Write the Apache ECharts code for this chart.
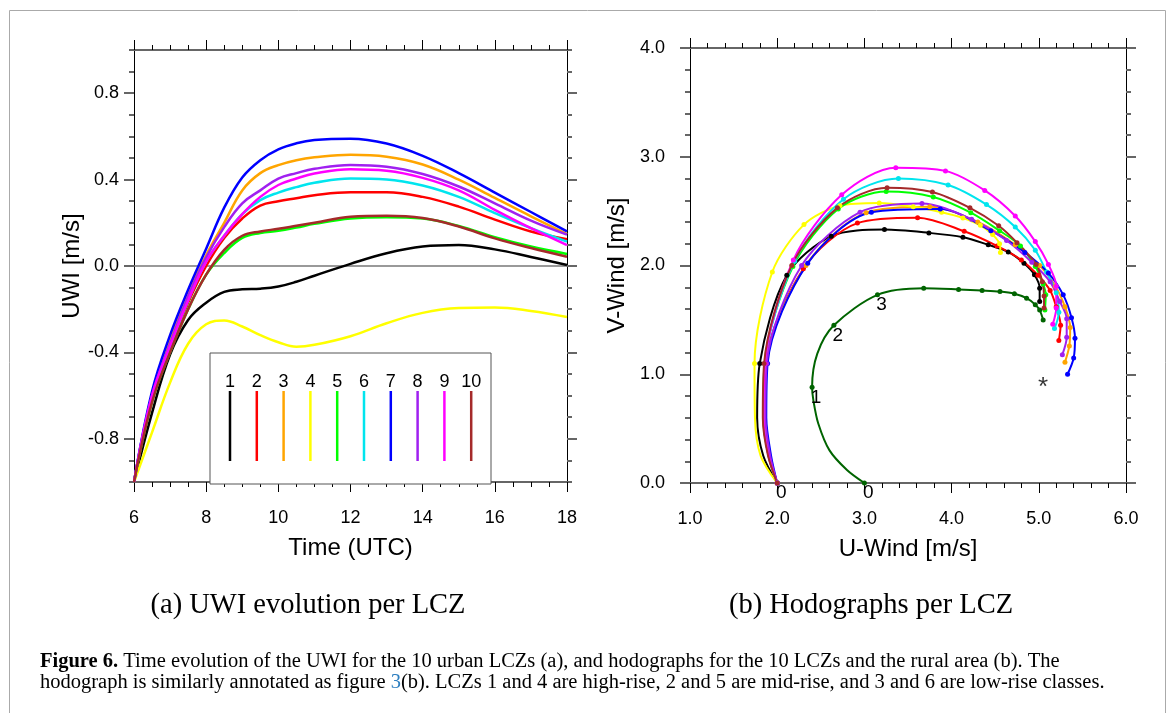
<!DOCTYPE html>
<html>
<head>
<meta charset="utf-8">
<script src="https://cdn.jsdelivr.net/npm/echarts@6/dist/echarts.min.js"></script>
<style>
  html, body { margin: 0; padding: 0; background: #fff; }
  #chart { width: 1173px; height: 713px; }
</style>
</head>
<body>
<div id="chart"></div>
<script>
// panel (a): UWI per LCZ, time in UTC hours
var hours = [6, 6.5, 7, 7.5, 8, 8.5, 9, 9.5, 10, 10.5, 11, 12, 13, 14, 15, 16, 17, 18];
var lczNames = ['1', '2', '3', '4', '5', '6', '7', '8', '9', '10'];
var lczColors = ['#000000', '#ff0000', '#ffa500', '#ffff00', '#00ff00', '#00e5ee', '#0000ff', '#a020f0', '#ff00ff', '#a52a2a'];
var ruralColor = '#006400';

var uwi1  = [-1, -0.68, -0.41, -0.25, -0.17, -0.12, -0.108, -0.105, -0.095, -0.073, -0.045, 0.01, 0.059, 0.09, 0.097, 0.077, 0.042, 0.005];
var uwi2  = [-1, -0.62, -0.38, -0.17, 0.0, 0.13, 0.22, 0.28, 0.30, 0.314, 0.328, 0.341, 0.341, 0.32, 0.275, 0.215, 0.16, 0.124];
var uwi3  = [-1, -0.6, -0.35, -0.13, 0.05, 0.2, 0.35, 0.43, 0.467, 0.49, 0.503, 0.515, 0.506, 0.47, 0.40, 0.315, 0.23, 0.148];
var uwi4  = [-1, -0.77, -0.54, -0.36, -0.27, -0.252, -0.28, -0.32, -0.353, -0.374, -0.365, -0.325, -0.265, -0.217, -0.195, -0.192, -0.208, -0.236];
var uwi5  = [-1, -0.63, -0.4, -0.2, -0.04, 0.06, 0.13, 0.153, 0.163, 0.178, 0.195, 0.22, 0.226, 0.22, 0.185, 0.133, 0.09, 0.056];
var uwi6  = [-1, -0.6, -0.37, -0.16, 0.02, 0.14, 0.24, 0.305, 0.34, 0.365, 0.385, 0.405, 0.401, 0.373, 0.32, 0.245, 0.175, 0.113];
var uwi7  = [-1, -0.58, -0.32, -0.11, 0.08, 0.27, 0.41, 0.49, 0.54, 0.568, 0.583, 0.589, 0.567, 0.51, 0.43, 0.34, 0.25, 0.16];
var uwi8  = [-1, -0.6, -0.36, -0.14, 0.04, 0.18, 0.29, 0.35, 0.405, 0.43, 0.45, 0.468, 0.46, 0.426, 0.368, 0.29, 0.21, 0.145];
var uwi9  = [-1, -0.6, -0.37, -0.16, 0.02, 0.14, 0.24, 0.32, 0.375, 0.405, 0.428, 0.448, 0.441, 0.408, 0.35, 0.26, 0.175, 0.097];
var uwi10 = [-1, -0.63, -0.4, -0.2, -0.04, 0.075, 0.14, 0.16, 0.172, 0.186, 0.2, 0.228, 0.233, 0.222, 0.183, 0.128, 0.083, 0.043];
var uwiAll = [uwi1, uwi2, uwi3, uwi4, uwi5, uwi6, uwi7, uwi8, uwi9, uwi10];

// panel (b): hodographs [u, v], hourly 6..18 UTC
var hodo1  = [[2.0, 0], [1.80, 1.10], [2.11, 1.91], [2.62, 2.27], [3.23, 2.33], [3.74, 2.30], [4.13, 2.26], [4.42, 2.19], [4.65, 2.125], [4.83, 2.02], [4.95, 1.915], [5.01, 1.79], [5.01, 1.67]];
var hodo2  = [[2.0, 0], [1.87, 1.10], [2.30, 1.97], [2.92, 2.39], [3.61, 2.44], [4.145, 2.315], [4.52, 2.18], [4.80, 2.05], [4.99, 1.91], [5.13, 1.77], [5.20, 1.62], [5.25, 1.45], [5.23, 1.31]];
var hodo3  = [[2.0, 0], [1.875, 1.10], [2.33, 2.0], [3.02, 2.486], [3.75, 2.54], [4.30, 2.40], [4.73, 2.19], [5.01, 2.0], [5.19, 1.81], [5.30, 1.62], [5.36, 1.43], [5.35, 1.26], [5.30, 1.11]];
var hodo4  = [[2.0, 0], [1.74, 1.10], [1.944, 1.94], [2.307, 2.376], [2.72, 2.55], [3.17, 2.575], [3.56, 2.54], [3.885, 2.49], [4.13, 2.437], [4.33, 2.37], [4.47, 2.284], [4.55, 2.20], [4.56, 2.12]];
var hodo5  = [[2.0, 0], [1.855, 1.10], [2.18, 1.99], [2.70, 2.52], [3.25, 2.68], [3.79, 2.63], [4.22, 2.486], [4.55, 2.32], [4.79, 2.18], [4.96, 1.99], [5.05, 1.83], [5.08, 1.73], [5.07, 1.59]];
var hodo6  = [[2.0, 0], [1.86, 1.10], [2.20, 2.04], [2.76, 2.61], [3.39, 2.80], [3.96, 2.74], [4.40, 2.56], [4.73, 2.354], [4.96, 2.14], [5.09, 1.94], [5.20, 1.75], [5.23, 1.57], [5.18, 1.42]];
var hodo7  = [[2.0, 0], [1.89, 1.10], [2.35, 2.02], [3.08, 2.49], [3.87, 2.52], [4.45, 2.32], [4.84, 2.12], [5.11, 1.93], [5.28, 1.73], [5.375, 1.52], [5.415, 1.33], [5.40, 1.15], [5.33, 1.0]];
var hodo8  = [[2.0, 0], [1.88, 1.10], [2.28, 2.0], [2.95, 2.49], [3.66, 2.57], [4.23, 2.425], [4.63, 2.23], [4.92, 2.03], [5.13, 1.85], [5.24, 1.67], [5.32, 1.51], [5.32, 1.34], [5.27, 1.18]];
var hodo9  = [[2.0, 0], [1.86, 1.10], [2.185, 2.05], [2.74, 2.65], [3.36, 2.90], [3.93, 2.87], [4.38, 2.69], [4.73, 2.455], [4.96, 2.22], [5.11, 2.01], [5.20, 1.81], [5.20, 1.61], [5.16, 1.46]];
var hodo10 = [[2.0, 0], [1.85, 1.10], [2.167, 2.0], [2.69, 2.53], [3.26, 2.716], [3.78, 2.676], [4.21, 2.53], [4.54, 2.365], [4.75, 2.21], [4.97, 2.01], [5.04, 1.85], [5.06, 1.72], [5.06, 1.61]];
var hodoRural = [[3.0, 0], [2.40, 0.88], [2.65, 1.45], [3.15, 1.73], [3.68, 1.79], [4.08, 1.78], [4.35, 1.77], [4.555, 1.76], [4.72, 1.74], [4.86, 1.70], [4.96, 1.64], [5.01, 1.59], [5.05, 1.50]];
var hodoAll = [hodo1, hodo2, hodo3, hodo4, hodo5, hodo6, hodo7, hodo8, hodo9, hodo10];

// extra points read along the curve between hour 0 and hour 1 (no marker)
var arc1  = [[1.84, 0.25], [1.77, 0.6]];
var arc2  = [[1.91, 0.25], [1.855, 0.6]];
var arc3  = [[1.915, 0.25], [1.86, 0.6]];
var arc4  = [[1.81, 0.25], [1.745, 0.6]];
var arc5  = [[1.90, 0.25], [1.84, 0.6]];
var arc6  = [[1.90, 0.25], [1.845, 0.6]];
var arc7  = [[1.93, 0.25], [1.875, 0.6]];
var arc8  = [[1.92, 0.25], [1.865, 0.6]];
var arc9  = [[1.90, 0.25], [1.845, 0.6]];
var arc10 = [[1.895, 0.25], [1.835, 0.6]];
var arcAll = [arc1, arc2, arc3, arc4, arc5, arc6, arc7, arc8, arc9, arc10];
var arcRural0 = [[2.80, 0.12], [2.60, 0.30], [2.47, 0.55], [2.415, 0.76]];
var arcRural1 = [[2.46, 1.19]];
var geoWind = [5.05, 0.94];

var sans = 'Liberation Sans, Arial, sans-serif';
var serif = 'Liberation Serif, Times New Roman, serif';
var majorUwi = [-0.8, -0.4, 0, 0.4, 0.8];

function fmt1(v) { return v.toFixed(1); }

// hourly points get a marker, arc points do not
function hodoData(pts, arcs, labelHours) {
  var out = [];
  pts.forEach(function (p, h) {
    var item = { value: p };
    if (labelHours.indexOf(h) >= 0) item.label = { show: true, formatter: String(h) };
    out.push(item);
    (arcs[h] || []).forEach(function (a) { out.push({ value: a, symbol: 'none' }); });
  });
  return out;
}

// one frame side of a grid
function frameAxis(grid, pos, o) {
  var horiz = pos === 'top' || pos === 'bottom';
  var ax = {
    gridIndex: grid, type: 'value', position: pos,
    axisLine: { show: true, onZero: false, lineStyle: { color: horiz ? '#666' : '#000', width: horiz ? 2 : 1 } },
    axisTick: { show: true, inside: false, length: 10, lineStyle: { color: horiz ? '#000' : '#666', width: horiz ? 1 : 2 } },
    minorTick: { show: false },
    axisLabel: { show: false },
    splitLine: { show: false },
    minorSplitLine: { show: false }
  };
  return Object.assign(ax, o || {});
}

var tickFont = { fontSize: 18, fontFamily: sans, color: '#000' };
var nameFont = { fontSize: 24, fontFamily: sans, color: '#000' };
var hodoLabel = { show: false, position: 'inside', offset: [4, 10], color: '#000', fontFamily: sans, fontSize: 19 };

var chart = echarts.init(document.getElementById('chart'));

var series = [];
uwiAll.forEach(function (vals, i) {
  var s = {
    type: 'line', xAxisIndex: 0, yAxisIndex: 0,
    data: hours.map(function (h, k) { return [h, vals[k]]; }),
    smooth: 0.4, showSymbol: false, symbol: 'none',
    lineStyle: { color: lczColors[i], width: 2.5 }, z: 3
  };
  if (i === 0) {
    s.markLine = {
      silent: true, symbol: 'none', label: { show: false },
      lineStyle: { color: '#777', width: 1.5, type: 'solid' },
      data: [{ yAxis: 0 }], z: 2
    };
  }
  series.push(s);
});

hodoAll.forEach(function (pts, i) {
  series.push({
    type: 'line', xAxisIndex: 2, yAxisIndex: 4,
    data: hodoData(pts, { 0: arcAll[i] }, i === 0 ? [0] : []),
    smooth: 0.3, symbol: 'circle', symbolSize: 5,
    itemStyle: { color: lczColors[i] },
    lineStyle: { color: lczColors[i], width: 2 },
    label: hodoLabel
  });
});

series.push({
  type: 'line', xAxisIndex: 2, yAxisIndex: 4,
  data: hodoData(hodoRural, { 0: arcRural0, 1: arcRural1 }, [0, 1, 2, 3]),
  smooth: 0.3, symbol: 'circle', symbolSize: 5,
  itemStyle: { color: ruralColor },
  lineStyle: { color: ruralColor, width: 2 },
  label: hodoLabel
});

series.push({
  type: 'scatter', xAxisIndex: 2, yAxisIndex: 4,
  data: [geoWind], symbolSize: 1, itemStyle: { color: 'rgba(0,0,0,0)' },
  label: { show: true, position: 'inside', offset: [0, 7], formatter: '*', color: '#000', fontFamily: sans, fontSize: 26 }
});

// legend of panel (a)
var legendEls = [{
  type: 'rect', shape: { x: 210, y: 353, width: 281, height: 131 },
  style: { fill: '#fff', stroke: '#555', lineWidth: 1 }, z: 10
}];
lczNames.forEach(function (n, i) {
  var x = 230 + i * 26.8;
  legendEls.push({
    type: 'text', x: x, y: 382, z: 11,
    style: { text: n, fill: '#000', font: '18px ' + sans, textAlign: 'center', textVerticalAlign: 'middle' }
  });
  legendEls.push({
    type: 'line', shape: { x1: x, y1: 391, x2: x, y2: 461 }, z: 11,
    style: { stroke: lczColors[i], lineWidth: 2.5 }
  });
});

var textEls = [
  { type: 'rect', shape: { x: 9.5, y: 10.5, width: 1156, height: 800 }, style: { fill: 'none', stroke: '#aaa', lineWidth: 1 }, z: 0, silent: true },
  { type: 'text', x: 308, y: 606, style: { text: '(a) UWI evolution per LCZ', fill: '#000', font: '28.5px ' + serif, textAlign: 'center', textVerticalAlign: 'middle' } },
  { type: 'text', x: 871, y: 606, style: { text: '(b) Hodographs per LCZ', fill: '#000', font: '28.5px ' + serif, textAlign: 'center', textVerticalAlign: 'middle' } },
  { type: 'text', x: 40, y: 662, style: {
      text: '{b|Figure 6.} Time evolution of the UWI for the 10 urban LCZs (a), and hodographs for the 10 LCZs and the rural area (b). The',
      font: '20.5px ' + serif, fill: '#000', textVerticalAlign: 'middle',
      rich: { b: { font: 'bold 20.5px ' + serif, fill: '#000' } } } },
  { type: 'text', x: 40, y: 683, style: {
      text: 'hodograph is similarly annotated as figure {l|3}(b). LCZs 1 and 4 are high-rise, 2 and 5 are mid-rise, and 3 and 6 are low-rise classes.',
      font: '20.5px ' + serif, fill: '#000', textVerticalAlign: 'middle',
      rich: { l: { font: '20.5px ' + serif, fill: '#2e7fc0' } } } }
];

chart.setOption({
  animation: false,
  backgroundColor: '#fff',
  grid: [
    { left: 134, top: 50, width: 433, height: 432 },
    { left: 690, top: 48, width: 436, height: 435 }
  ],
  xAxis: [
    frameAxis(0, 'bottom', {
      min: 6, max: 18, interval: 2,
      minorTick: { show: true, splitNumber: 4, length: 5, lineStyle: { color: '#000', width: 1 } },
      axisLabel: Object.assign({ show: true, margin: 27 }, tickFont),
      name: 'Time (UTC)', nameLocation: 'middle', nameGap: 54, nameTextStyle: nameFont
    }),
    frameAxis(0, 'top', {
      min: 6, max: 18, interval: 2,
      minorTick: { show: true, splitNumber: 4, length: 5, lineStyle: { color: '#000', width: 1 } }
    }),
    frameAxis(1, 'bottom', {
      min: 1, max: 6, interval: 1,
      minorTick: { show: true, splitNumber: 5, length: 5, lineStyle: { color: '#000', width: 1 } },
      axisLabel: Object.assign({ show: true, margin: 27, formatter: fmt1 }, tickFont),
      name: 'U-Wind [m/s]', nameLocation: 'middle', nameGap: 54, nameTextStyle: nameFont
    }),
    frameAxis(1, 'top', {
      min: 1, max: 6, interval: 1,
      minorTick: { show: true, splitNumber: 5, length: 5, lineStyle: { color: '#000', width: 1 } }
    })
  ],
  yAxis: [
    frameAxis(0, 'left', {
      min: -1, max: 1,
      axisTick: { show: true, inside: false, length: 10, customValues: majorUwi, lineStyle: { color: '#666', width: 2 } },
      axisLabel: Object.assign({ show: true, customValues: majorUwi, formatter: fmt1, margin: 15 }, tickFont),
      name: 'UWI [m/s]', nameLocation: 'middle', nameGap: 50, nameRotate: 90, nameTextStyle: nameFont
    }),
    frameAxis(0, 'left', {
      min: -1, max: 1, interval: 0.1,
      axisLine: { show: false, onZero: false },
      axisTick: { show: true, inside: false, length: 5, lineStyle: { color: '#666', width: 2 } }
    }),
    frameAxis(0, 'right', {
      min: -1, max: 1,
      axisTick: { show: true, inside: false, length: 10, customValues: majorUwi, lineStyle: { color: '#666', width: 2 } }
    }),
    frameAxis(0, 'right', {
      min: -1, max: 1, interval: 0.1,
      axisLine: { show: false, onZero: false },
      axisTick: { show: true, inside: false, length: 5, lineStyle: { color: '#666', width: 2 } }
    }),
    frameAxis(1, 'left', {
      min: 0, max: 4, interval: 1,
      minorTick: { show: true, splitNumber: 5, length: 5, lineStyle: { color: '#666', width: 2 } },
      axisLabel: Object.assign({ show: true, formatter: fmt1, margin: 25 }, tickFont),
      name: 'V-Wind [m/s]', nameLocation: 'middle', nameGap: 61, nameRotate: 90, nameTextStyle: nameFont
    }),
    frameAxis(1, 'right', {
      min: 0, max: 4, interval: 1,
      minorTick: { show: true, splitNumber: 5, length: 5, lineStyle: { color: '#666', width: 2 } }
    })
  ],
  series: series,
  graphic: textEls.concat(legendEls)
});
</script>
</body>
</html>
